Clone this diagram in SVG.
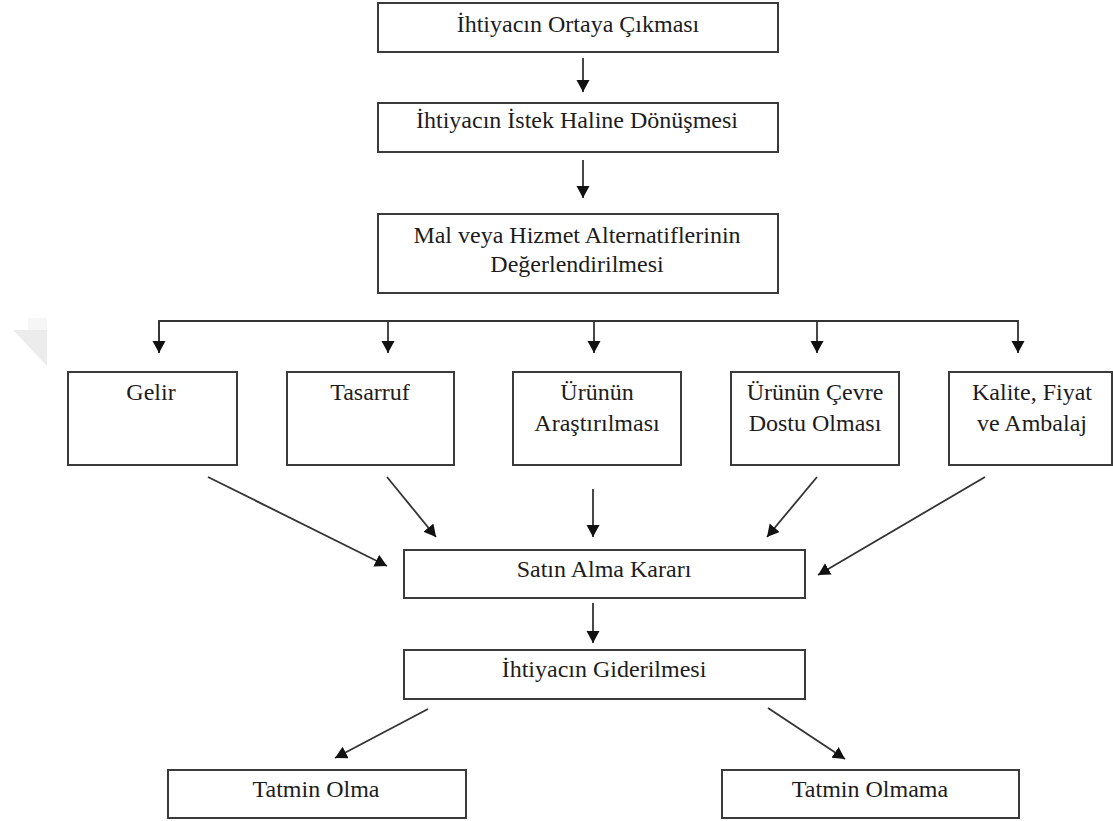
<svg xmlns="http://www.w3.org/2000/svg" width="1113" height="821" viewBox="0 0 1113 821">
  <style>
    .box { fill: #ffffff; stroke: #3a3a3a; stroke-width: 2; }
    text { font-family: 'Liberation Serif', 'Times New Roman', serif; font-size: 24px; fill: #1c1c1c; text-anchor: middle; }
    .con { fill: none; stroke: #333333; stroke-width: 1.8; }
    .arr { marker-end: url(#head); }
  </style>
  <defs>
    <marker id="head" markerUnits="userSpaceOnUse" markerWidth="14" markerHeight="14" refX="12" refY="6.5" orient="auto">
      <path d="M0,0 L12,6.5 L0,13 z" fill="#111111"/>
    </marker>
  </defs>

  <rect width="1113" height="821" fill="#ffffff"/>

  <!-- faint corner mark on the left margin -->
  <rect x="28" y="318" width="19" height="12" fill="#f6f6f6"/>
  <polygon points="13,330 47,330 47,366" fill="#ececec"/>

  <!-- connectors -->
  <g id="connectors">
    <line class="con arr" x1="583" y1="58" x2="583" y2="92"/>
    <line class="con arr" x1="583" y1="160" x2="583" y2="198"/>
    <polyline class="con arr" points="159,353 159,321 1018,321 1018,353"/>
    <line class="con arr" x1="159" y1="321" x2="159" y2="353"/>
    <line class="con arr" x1="388" y1="321" x2="388" y2="353"/>
    <line class="con arr" x1="594" y1="321" x2="594" y2="353"/>
    <line class="con arr" x1="817" y1="321" x2="817" y2="353"/>
    <line class="con arr" x1="208" y1="477" x2="387" y2="566"/>
    <line class="con arr" x1="387" y1="477" x2="436" y2="537"/>
    <line class="con arr" x1="593" y1="489" x2="593" y2="537"/>
    <line class="con arr" x1="817" y1="477" x2="767" y2="537"/>
    <line class="con arr" x1="985" y1="477" x2="818" y2="575"/>
    <line class="con arr" x1="593" y1="603" x2="593" y2="643"/>
    <line class="con arr" x1="428" y1="709" x2="335" y2="758"/>
    <line class="con arr" x1="768" y1="708" x2="845" y2="759"/>
  </g>

  <g id="n-ortaya">
    <rect class="box" x="378" y="3" width="400" height="49"/>
    <text x="578" y="32">İhtiyacın Ortaya Çıkması</text>
  </g>
  <g id="n-istek">
    <rect class="box" x="378" y="103" width="400" height="49"/>
    <text x="577" y="128">İhtiyacın İstek Haline Dönüşmesi</text>
  </g>
  <g id="n-alternatif">
    <rect class="box" x="378" y="214" width="400" height="79"/>
    <text x="577" y="243">Mal veya Hizmet Alternatiflerinin</text>
    <text x="577" y="272">Değerlendirilmesi</text>
  </g>

  <g id="n-gelir">
    <rect class="box" x="68" y="372" width="169" height="93"/>
    <text x="151" y="400">Gelir</text>
  </g>
  <g id="n-tasarruf">
    <rect class="box" x="287" y="372" width="167" height="93"/>
    <text x="370" y="400">Tasarruf</text>
  </g>
  <g id="n-arastirma">
    <rect class="box" x="513" y="372" width="168" height="93"/>
    <text x="597" y="400">Ürünün</text>
    <text x="597" y="431">Araştırılması</text>
  </g>
  <g id="n-cevre">
    <rect class="box" x="731" y="372" width="168" height="93"/>
    <text x="815" y="400">Ürünün Çevre</text>
    <text x="815" y="431">Dostu Olması</text>
  </g>
  <g id="n-kalite">
    <rect class="box" x="949" y="372" width="163" height="93"/>
    <text x="1032" y="400">Kalite, Fiyat</text>
    <text x="1032" y="431">ve Ambalaj</text>
  </g>

  <g id="n-karar">
    <rect class="box" x="404" y="550" width="401" height="48"/>
    <text x="604" y="577">Satın Alma Kararı</text>
  </g>
  <g id="n-giderilme">
    <rect class="box" x="404" y="650" width="401" height="49"/>
    <text x="604" y="677">İhtiyacın Giderilmesi</text>
  </g>

  <g id="n-tatmin">
    <rect class="box" x="168" y="770" width="298" height="48"/>
    <text x="316" y="797">Tatmin Olma</text>
  </g>
  <g id="n-tatminsiz">
    <rect class="box" x="722" y="770" width="297" height="48"/>
    <text x="870" y="797">Tatmin Olmama</text>
  </g>
</svg>
